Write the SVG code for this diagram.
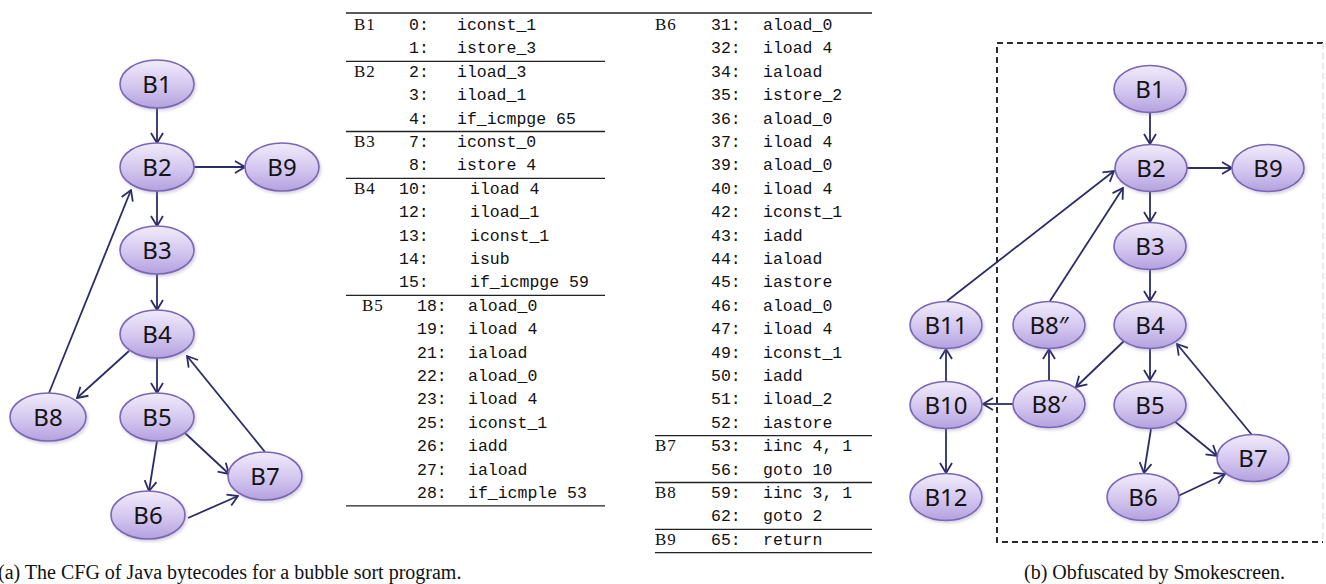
<svg xmlns="http://www.w3.org/2000/svg" width="1326" height="584" viewBox="0 0 1326 584">
  <defs>
    <linearGradient id="nodeFill" x1="0" y1="0" x2="0" y2="1">
      <stop offset="0" stop-color="#f1ebfb"/>
      <stop offset="0.55" stop-color="#d3c6ef"/>
      <stop offset="1" stop-color="#b3a1df"/>
    </linearGradient>
    <filter id="soft" x="-20%" y="-20%" width="150%" height="160%">
      <feDropShadow dx="1.5" dy="2" stdDeviation="1.5" flood-color="#8a7fa8" flood-opacity="0.35"/>
    </filter>
    <marker id="arrow" viewBox="0 0 12 14" refX="11" refY="7" markerWidth="12" markerHeight="14" markerUnits="userSpaceOnUse" orient="auto">
      <path d="M1,1 L11,7 L1,13" fill="none" stroke="#2b2c68" stroke-width="1.8" stroke-linejoin="miter"/>
    </marker>
  </defs>
  <style>
    .node ellipse { fill: url(#nodeFill); stroke: #7a66b4; stroke-width: 1.6; filter: url(#soft); }
    .node text { font-family: "Noto Sans", "Open Sans", sans-serif; font-size: 24px; fill: #141414; text-anchor: middle; }
    .edges line { stroke: #2b2c68; stroke-width: 1.8; marker-end: url(#arrow); }
    .lbl { font-family: "Liberation Serif", serif; font-size: 17px; fill: #111; letter-spacing: 1px; }
    .code { font-family: "Liberation Mono", monospace; font-size: 16.5px; fill: #111; }
    .rule { stroke: #222; stroke-width: 1.3; }
    .caption { font-family: "Liberation Serif", serif; font-size: 20px; fill: #111; }
  </style>
  <rect width="1326" height="584" fill="#ffffff"/>

  <!-- (a) original control-flow graph -->
  <g id="cfg-a">
    <g class="edges" id="edges-a">
      <line x1="157" y1="108" x2="157" y2="143"/>
      <line x1="194" y1="167" x2="245" y2="167"/>
      <line x1="157" y1="191" x2="157" y2="226"/>
      <line x1="157" y1="274" x2="157" y2="310"/>
      <line x1="129" y1="351" x2="77" y2="398"/>
      <line x1="157" y1="358" x2="157" y2="393"/>
      <line x1="185" y1="433" x2="229" y2="474"/>
      <line x1="157" y1="441" x2="149" y2="491"/>
      <line x1="188" y1="518" x2="238" y2="496"/>
      <line x1="265" y1="452" x2="187" y2="356"/>
      <line x1="49" y1="393" x2="131" y2="190"/>
    </g>
    <g class="node" id="a-B1"><ellipse cx="157" cy="84" rx="37" ry="24"/><text x="157" y="92.5">B1</text></g>
    <g class="node" id="a-B2"><ellipse cx="157" cy="167" rx="37" ry="24"/><text x="157" y="175.5">B2</text></g>
    <g class="node" id="a-B9"><ellipse cx="282" cy="167" rx="37" ry="24"/><text x="282" y="175.5">B9</text></g>
    <g class="node" id="a-B3"><ellipse cx="157" cy="250" rx="37" ry="24"/><text x="157" y="258.5">B3</text></g>
    <g class="node" id="a-B4"><ellipse cx="157" cy="334" rx="37" ry="24"/><text x="157" y="342.5">B4</text></g>
    <g class="node" id="a-B8"><ellipse cx="48" cy="417" rx="38" ry="24"/><text x="48" y="425.5">B8</text></g>
    <g class="node" id="a-B5"><ellipse cx="157" cy="417" rx="37" ry="24"/><text x="157" y="425.5">B5</text></g>
    <g class="node" id="a-B7"><ellipse cx="265" cy="476" rx="37" ry="24"/><text x="265" y="484.5">B7</text></g>
    <g class="node" id="a-B6"><ellipse cx="148" cy="515" rx="37" ry="24"/><text x="148" y="523.5">B6</text></g>
  </g>

  <!-- bytecode listing, left half -->
  <g id="listing-left">
    <line class="rule" x1="346" y1="13" x2="872" y2="13"/>
    <line class="rule" x1="346" y1="61.3" x2="605" y2="61.3"/>
    <line class="rule" x1="346" y1="131.5" x2="605" y2="131.5"/>
    <line class="rule" x1="346" y1="178.3" x2="605" y2="178.3"/>
    <line class="rule" x1="346" y1="295.3" x2="605" y2="295.3"/>
    <line class="rule" x1="346" y1="505.9" x2="605" y2="505.9"/>

    <text class="lbl" x="354" y="30">B1</text>
    <text class="code" x="409" y="30">0:</text><text class="code" x="457" y="30">iconst_1</text>
    <text class="code" x="409" y="53.4">1:</text><text class="code" x="457" y="53.4">istore_3</text>

    <text class="lbl" x="354" y="76.8">B2</text>
    <text class="code" x="409" y="76.8">2:</text><text class="code" x="457" y="76.8">iload_3</text>
    <text class="code" x="409" y="100.2">3:</text><text class="code" x="457" y="100.2">iload_1</text>
    <text class="code" x="409" y="123.6">4:</text><text class="code" x="457" y="123.6">if_icmpge 65</text>

    <text class="lbl" x="354" y="147">B3</text>
    <text class="code" x="409" y="147">7:</text><text class="code" x="457" y="147">iconst_0</text>
    <text class="code" x="409" y="170.4">8:</text><text class="code" x="457" y="170.4">istore 4</text>

    <text class="lbl" x="354" y="193.8">B4</text>
    <text class="code" x="399" y="193.8">10:</text><text class="code" x="470" y="193.8">iload 4</text>
    <text class="code" x="399" y="217.2">12:</text><text class="code" x="470" y="217.2">iload_1</text>
    <text class="code" x="399" y="240.6">13:</text><text class="code" x="470" y="240.6">iconst_1</text>
    <text class="code" x="399" y="264">14:</text><text class="code" x="470" y="264">isub</text>
    <text class="code" x="399" y="287.4">15:</text><text class="code" x="470" y="287.4">if_icmpge 59</text>

    <text class="lbl" x="362" y="310.8">B5</text>
    <text class="code" x="417" y="310.8">18:</text><text class="code" x="468" y="310.8">aload_0</text>
    <text class="code" x="417" y="334.2">19:</text><text class="code" x="468" y="334.2">iload 4</text>
    <text class="code" x="417" y="357.6">21:</text><text class="code" x="468" y="357.6">iaload</text>
    <text class="code" x="417" y="381">22:</text><text class="code" x="468" y="381">aload_0</text>
    <text class="code" x="417" y="404.4">23:</text><text class="code" x="468" y="404.4">iload 4</text>
    <text class="code" x="417" y="427.8">25:</text><text class="code" x="468" y="427.8">iconst_1</text>
    <text class="code" x="417" y="451.2">26:</text><text class="code" x="468" y="451.2">iadd</text>
    <text class="code" x="417" y="474.6">27:</text><text class="code" x="468" y="474.6">iaload</text>
    <text class="code" x="417" y="498">28:</text><text class="code" x="468" y="498">if_icmple 53</text>
  </g>

  <!-- bytecode listing, right half -->
  <g id="listing-right">
    <line class="rule" x1="655" y1="435.7" x2="872" y2="435.7"/>
    <line class="rule" x1="655" y1="482.5" x2="872" y2="482.5"/>
    <line class="rule" x1="655" y1="529.3" x2="872" y2="529.3"/>
    <line class="rule" x1="655" y1="552.7" x2="872" y2="552.7"/>

    <text class="lbl" x="655" y="30">B6</text>
    <text class="code" x="711" y="30">31:</text><text class="code" x="763" y="30">aload_0</text>
    <text class="code" x="711" y="53.4">32:</text><text class="code" x="763" y="53.4">iload 4</text>
    <text class="code" x="711" y="76.8">34:</text><text class="code" x="763" y="76.8">iaload</text>
    <text class="code" x="711" y="100.2">35:</text><text class="code" x="763" y="100.2">istore_2</text>
    <text class="code" x="711" y="123.6">36:</text><text class="code" x="763" y="123.6">aload_0</text>
    <text class="code" x="711" y="147">37:</text><text class="code" x="763" y="147">iload 4</text>
    <text class="code" x="711" y="170.4">39:</text><text class="code" x="763" y="170.4">aload_0</text>
    <text class="code" x="711" y="193.8">40:</text><text class="code" x="763" y="193.8">iload 4</text>
    <text class="code" x="711" y="217.2">42:</text><text class="code" x="763" y="217.2">iconst_1</text>
    <text class="code" x="711" y="240.6">43:</text><text class="code" x="763" y="240.6">iadd</text>
    <text class="code" x="711" y="264">44:</text><text class="code" x="763" y="264">iaload</text>
    <text class="code" x="711" y="287.4">45:</text><text class="code" x="763" y="287.4">iastore</text>
    <text class="code" x="711" y="310.8">46:</text><text class="code" x="763" y="310.8">aload_0</text>
    <text class="code" x="711" y="334.2">47:</text><text class="code" x="763" y="334.2">iload 4</text>
    <text class="code" x="711" y="357.6">49:</text><text class="code" x="763" y="357.6">iconst_1</text>
    <text class="code" x="711" y="381">50:</text><text class="code" x="763" y="381">iadd</text>
    <text class="code" x="711" y="404.4">51:</text><text class="code" x="763" y="404.4">iload_2</text>
    <text class="code" x="711" y="427.8">52:</text><text class="code" x="763" y="427.8">iastore</text>

    <text class="lbl" x="655" y="451.2">B7</text>
    <text class="code" x="711" y="451.2">53:</text><text class="code" x="763" y="451.2">iinc 4, 1</text>
    <text class="code" x="711" y="474.6">56:</text><text class="code" x="763" y="474.6">goto 10</text>

    <text class="lbl" x="655" y="498">B8</text>
    <text class="code" x="711" y="498">59:</text><text class="code" x="763" y="498">iinc 3, 1</text>
    <text class="code" x="711" y="521.4">62:</text><text class="code" x="763" y="521.4">goto 2</text>

    <text class="lbl" x="655" y="544.8">B9</text>
    <text class="code" x="711" y="544.8">65:</text><text class="code" x="763" y="544.8">return</text>
  </g>

  <!-- (b) obfuscated control-flow graph -->
  <g id="cfg-b">
    <path id="region" d="M1323,43 H997 V542 H1323" fill="none" stroke="#2a2a2a" stroke-width="2" stroke-dasharray="6,4"/>
    <line x1="1323" y1="43" x2="1323" y2="542" stroke="#e4e4e4" stroke-width="1.5" stroke-dasharray="6,4"/>
    <g class="edges" id="edges-b">
      <line x1="1150" y1="112" x2="1150" y2="144"/>
      <line x1="1187" y1="168" x2="1232" y2="168"/>
      <line x1="1150" y1="192" x2="1150" y2="222"/>
      <line x1="1150" y1="269" x2="1150" y2="301"/>
      <line x1="947" y1="301" x2="1114" y2="171"/>
      <line x1="1050" y1="301" x2="1123" y2="188"/>
      <line x1="1124" y1="341" x2="1076" y2="387"/>
      <line x1="1150" y1="348" x2="1150" y2="380"/>
      <line x1="1252" y1="435" x2="1177" y2="344"/>
      <line x1="1173" y1="420" x2="1217" y2="456"/>
      <line x1="1151" y1="429" x2="1144" y2="473"/>
      <line x1="1178" y1="496" x2="1225" y2="474"/>
      <line x1="1049" y1="380" x2="1049" y2="349"/>
      <line x1="1013" y1="404" x2="983" y2="404"/>
      <line x1="946" y1="381" x2="946" y2="349"/>
      <line x1="946" y1="429" x2="946" y2="473"/>
    </g>
    <g class="node" id="b-B1"><ellipse cx="1150" cy="89" rx="36" ry="23.5"/><text x="1150" y="97.5">B1</text></g>
    <g class="node" id="b-B2"><ellipse cx="1151" cy="168" rx="36" ry="23.5"/><text x="1151" y="176.5">B2</text></g>
    <g class="node" id="b-B9"><ellipse cx="1268" cy="168" rx="36" ry="23.5"/><text x="1268" y="176.5">B9</text></g>
    <g class="node" id="b-B3"><ellipse cx="1150" cy="246" rx="36" ry="23.5"/><text x="1150" y="254.5">B3</text></g>
    <g class="node" id="b-B4"><ellipse cx="1150" cy="325" rx="36" ry="23.5"/><text x="1150" y="333.5">B4</text></g>
    <g class="node" id="b-B8pp"><ellipse cx="1049" cy="325" rx="36" ry="23.5"/><text x="1049" y="333.5">B8″</text></g>
    <g class="node" id="b-B11"><ellipse cx="946" cy="325" rx="36" ry="23.5"/><text x="946" y="333.5">B11</text></g>
    <g class="node" id="b-B10"><ellipse cx="946" cy="405" rx="36" ry="23.5"/><text x="946" y="413.5">B10</text></g>
    <g class="node" id="b-B8p"><ellipse cx="1049" cy="404" rx="36" ry="23.5"/><text x="1049" y="412.5">B8′</text></g>
    <g class="node" id="b-B5"><ellipse cx="1150" cy="405" rx="36" ry="23.5"/><text x="1150" y="413.5">B5</text></g>
    <g class="node" id="b-B7"><ellipse cx="1253" cy="458" rx="36" ry="23.5"/><text x="1253" y="466.5">B7</text></g>
    <g class="node" id="b-B6"><ellipse cx="1143" cy="497" rx="36" ry="23.5"/><text x="1143" y="505.5">B6</text></g>
    <g class="node" id="b-B12"><ellipse cx="946" cy="497" rx="36" ry="23.5"/><text x="946" y="505.5">B12</text></g>
  </g>

  <!-- sub-figure captions -->
  <text class="caption" x="-2" y="579">(a) The CFG of Java bytecodes for a bubble sort program.</text>
  <text class="caption" x="1024" y="579">(b) Obfuscated by Smokescreen.</text>
</svg>
